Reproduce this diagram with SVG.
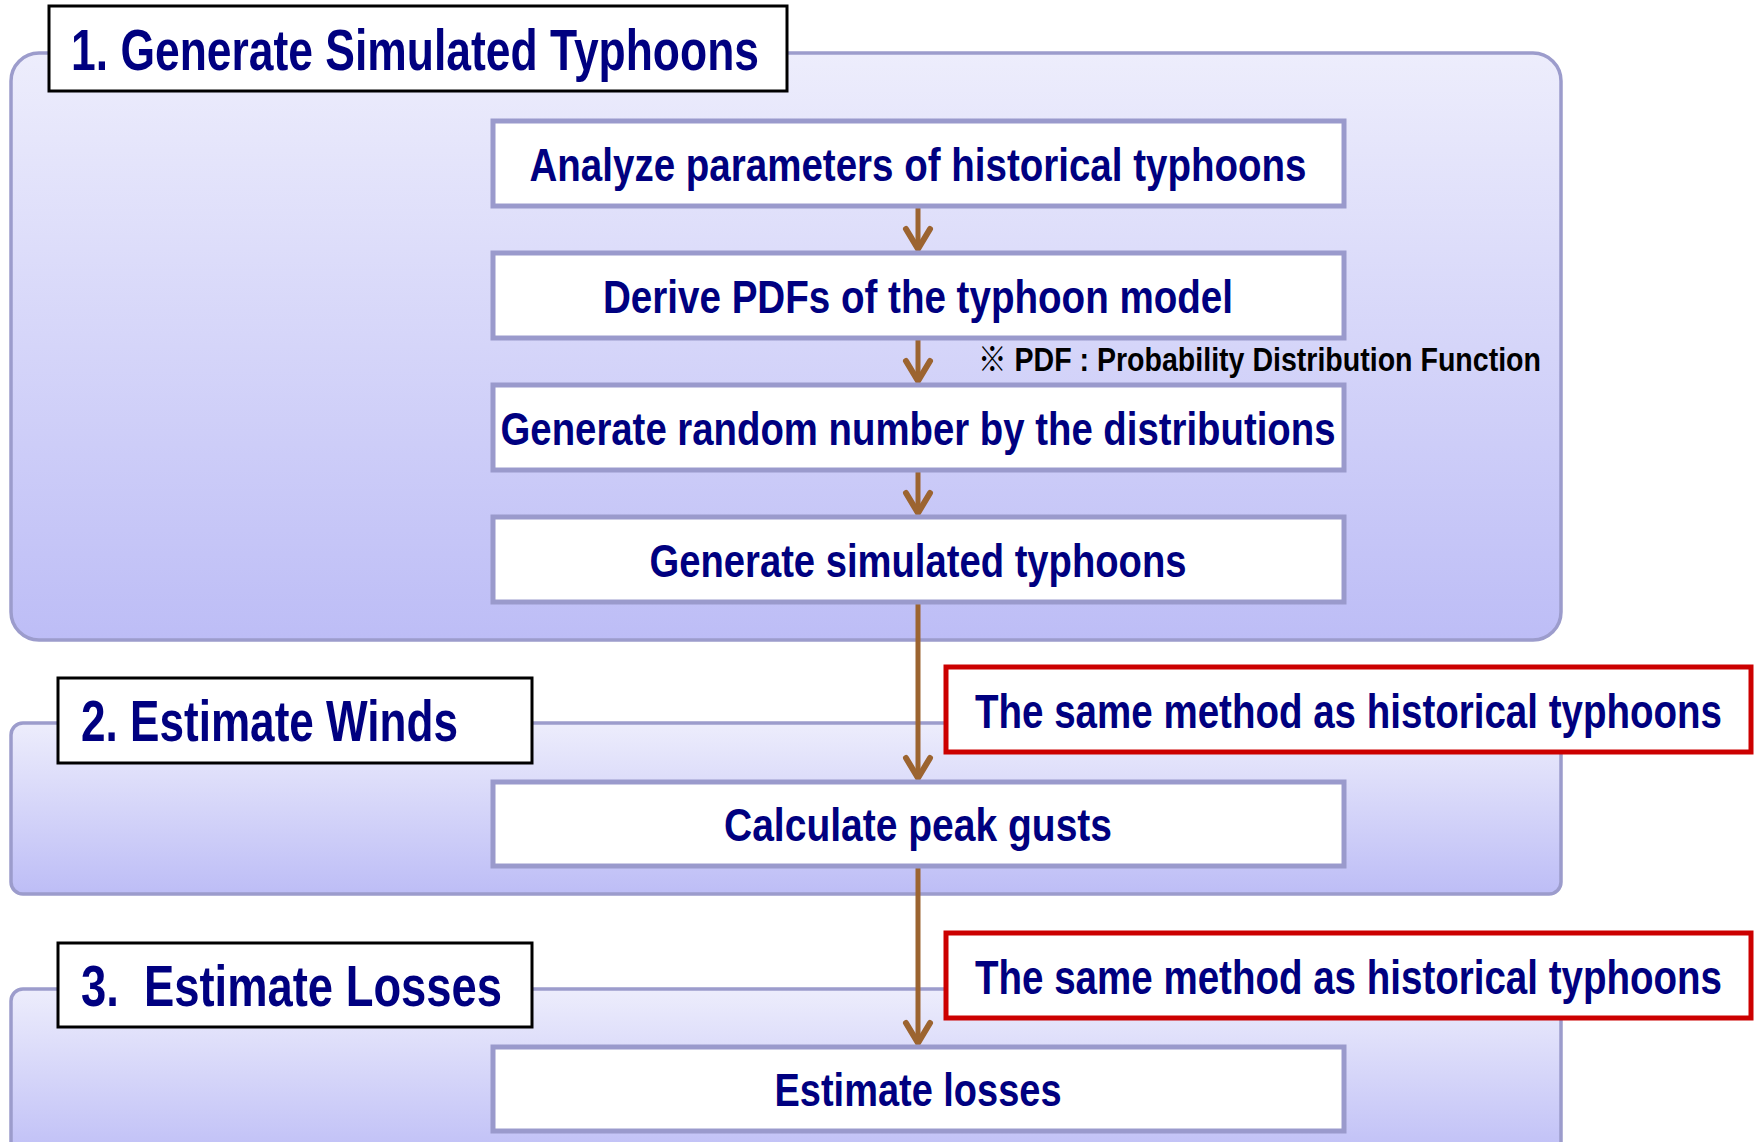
<svg xmlns="http://www.w3.org/2000/svg" width="1756" height="1142" viewBox="0 0 1756 1142">
<style>
.panel{stroke:#9c9ccc;stroke-width:3.5}
.box{fill:#ffffff;stroke:#9a9acc;stroke-width:5}
.label{fill:#ffffff;stroke:#000000;stroke-width:3}
.note{fill:#ffffff;stroke:#cc0000;stroke-width:5}
.t{font-family:"Liberation Sans",Arial,sans-serif;font-weight:bold;fill:#000080}
.bt{font-size:46px;text-anchor:middle}
.tt{font-size:57px;white-space:pre}
.nt{font-size:38.5px}
.fn{font-family:"Liberation Sans","Noto Sans CJK JP",sans-serif;font-weight:bold;font-size:33px;fill:#000000}
.conn{stroke:#9c6430;stroke-width:5;fill:none}
</style>
<defs>
<linearGradient id="pg" x1="0" y1="0" x2="0" y2="1">
<stop offset="0" stop-color="#ededfc"/>
<stop offset="1" stop-color="#bdbdf6"/>
</linearGradient>
<marker id="ah" markerUnits="userSpaceOnUse" markerWidth="34" markerHeight="36" viewBox="-28 -18 34 36" refX="-3" refY="0" orient="auto">
<path d="M-20,-12 L0,0 L-20,12" fill="none" stroke="#9c6430" stroke-width="6" stroke-linecap="round" stroke-linejoin="miter"/>
</marker>
</defs>

<g id="panel1"><rect class="panel" x="11" y="53" width="1550" height="587" rx="28" fill="url(#pg)"/></g>
<g id="panel2"><rect class="panel" x="11" y="723" width="1550" height="171" rx="12" fill="url(#pg)"/></g>
<g id="panel3"><rect class="panel" x="11" y="989" width="1550" height="175" rx="12" fill="url(#pg)"/></g>

<g id="label1"><rect class="label" x="49" y="6" width="738" height="85"/>
<text class="t tt" x="71" y="70" textLength="688" lengthAdjust="spacingAndGlyphs">1. Generate Simulated Typhoons</text></g>
<g id="label2"><rect class="label" x="58" y="678" width="474" height="85"/>
<text class="t tt" x="81" y="741" textLength="377" lengthAdjust="spacingAndGlyphs">2. Estimate Winds</text></g>
<g id="label3"><rect class="label" x="58" y="943" width="474" height="84"/>
<text class="t tt" x="81" y="1006" textLength="421" lengthAdjust="spacingAndGlyphs">3.  Estimate Losses</text></g>

<g id="connectors">
<line class="conn" x1="918" y1="206" x2="918" y2="246" marker-end="url(#ah)"/>
<line class="conn" x1="918" y1="338" x2="918" y2="378" marker-end="url(#ah)"/>
<line class="conn" x1="918" y1="470" x2="918" y2="510" marker-end="url(#ah)"/>
<line class="conn" x1="918" y1="602" x2="918" y2="775" marker-end="url(#ah)"/>
<line class="conn" x1="918" y1="866" x2="918" y2="1040" marker-end="url(#ah)"/>
</g>

<g id="boxA"><rect class="box" x="493" y="121" width="851" height="85"/>
<text class="t bt" x="918" y="181" textLength="777" lengthAdjust="spacingAndGlyphs">Analyze parameters of historical typhoons</text></g>
<g id="boxB"><rect class="box" x="493" y="253" width="851" height="85"/>
<text class="t bt" x="918" y="313" textLength="630" lengthAdjust="spacingAndGlyphs">Derive PDFs of the typhoon model</text></g>
<g id="footnote"><text class="fn" x="978" y="371" textLength="563" lengthAdjust="spacingAndGlyphs">※ PDF : Probability Distribution Function</text></g>
<g id="boxC"><rect class="box" x="493" y="385" width="851" height="85"/>
<text class="t bt" x="918" y="445" textLength="835" lengthAdjust="spacingAndGlyphs">Generate random number by the distributions</text></g>
<g id="boxD"><rect class="box" x="493" y="517" width="851" height="85"/>
<text class="t bt" x="918" y="577" textLength="537" lengthAdjust="spacingAndGlyphs">Generate simulated typhoons</text></g>
<g id="boxCalc"><rect class="box" x="493" y="782" width="851" height="84"/>
<text class="t bt" x="918" y="841" textLength="388" lengthAdjust="spacingAndGlyphs">Calculate peak gusts</text></g>
<g id="boxLoss"><rect class="box" x="493" y="1047" width="851" height="84"/>
<text class="t bt" x="918" y="1106" textLength="287" lengthAdjust="spacingAndGlyphs">Estimate losses</text></g>

<g id="note1"><rect class="note" x="946" y="667" width="805" height="85"/>
<text class="t nt" transform="translate(975,728) scale(1,1.25)" x="0" y="0" textLength="747" lengthAdjust="spacingAndGlyphs">The same method as historical typhoons</text></g>
<g id="note2"><rect class="note" x="946" y="933" width="805" height="85"/>
<text class="t nt" transform="translate(975,994) scale(1,1.25)" x="0" y="0" textLength="747" lengthAdjust="spacingAndGlyphs">The same method as historical typhoons</text></g>
</svg>
